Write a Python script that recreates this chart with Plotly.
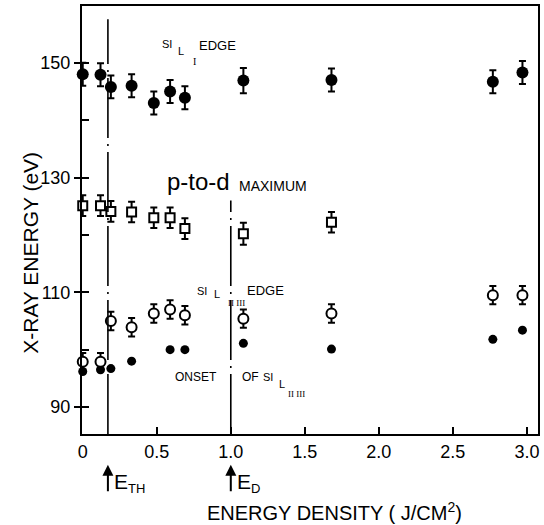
import plotly.graph_objects as go

# ---------------- data ----------------
energy_density = [0, 0.12, 0.19, 0.33, 0.48, 0.59, 0.69, 1.085, 1.68, 2.77, 2.97]
si_l1_edge = [148.0, 147.9, 145.8, 146.0, 143.0, 145.0, 143.9, 146.9, 147.0, 146.7, 148.3]
si_l1_err = [2.0, 2.0, 2.0, 2.0, 2.0, 2.0, 2.0, 2.2, 2.0, 2.0, 2.0]

ptod_density = [0, 0.12, 0.19, 0.33, 0.48, 0.59, 0.69, 1.085, 1.68]
ptod_maximum = [125.1, 125.1, 124.1, 124.0, 123.0, 123.0, 121.1, 120.2, 122.2]
ptod_err = [1.8, 1.8, 1.8, 1.8, 1.8, 1.8, 1.8, 1.9, 1.8]

si_l23_edge = [97.9, 97.9, 105.0, 103.9, 106.3, 107.0, 106.0, 105.4, 106.3, 109.5, 109.5]
si_l23_err = [1.5, 1.5, 1.6, 1.6, 1.6, 1.6, 1.6, 1.6, 1.6, 1.6, 1.6]

onset_density = [0, 0.12, 0.19, 0.33, 0.59, 0.69, 1.085, 1.68, 2.77, 2.97]
onset_l23 = [96.2, 96.5, 96.7, 98.0, 100.0, 100.0, 101.1, 100.1, 101.8, 103.4]

E_TH = 0.17
E_D = 1.0

x_tickvals = [0, 0.5, 1.0, 1.5, 2.0, 2.5, 3.0]
x_ticktext = ["0", "0.5", "1.0", "1.5", "2.0", "2.5", "3.0"]
y_tickvals = [90, 110, 130, 150]

FONT = "Liberation Sans"
BLACK = "black"

fig = go.Figure()

# onset of Si L_II,III (small filled dots, no error bars)
fig.add_trace(go.Scatter(
    x=onset_density, y=onset_l23, mode="markers", cliponaxis=False,
    marker=dict(symbol="circle", size=9, color=BLACK),
    showlegend=False, hoverinfo="skip"))

# Si L_II,III edge (open circles)
fig.add_trace(go.Scatter(
    x=energy_density, y=si_l23_edge, mode="markers", cliponaxis=False,
    marker=dict(symbol="circle", size=10, color="white", line=dict(color=BLACK, width=2)),
    error_y=dict(type="data", array=si_l23_err, visible=True, color=BLACK, thickness=2, width=3.5),
    showlegend=False, hoverinfo="skip"))

# p-to-d maximum (open squares)
fig.add_trace(go.Scatter(
    x=ptod_density, y=ptod_maximum, mode="markers", cliponaxis=False,
    marker=dict(symbol="square", size=9, color="white", line=dict(color=BLACK, width=2)),
    error_y=dict(type="data", array=ptod_err, visible=True, color=BLACK, thickness=2, width=3.5),
    showlegend=False, hoverinfo="skip"))

# Si L_I edge (large filled circles)
fig.add_trace(go.Scatter(
    x=energy_density, y=si_l1_edge, mode="markers", cliponaxis=False,
    marker=dict(symbol="circle", size=12, color=BLACK),
    error_y=dict(type="data", array=si_l1_err, visible=True, color=BLACK, thickness=2, width=3.5),
    showlegend=False, hoverinfo="skip"))

# invisible trace so the overlay axis (inside ticks) is drawn
fig.add_trace(go.Scatter(x=[], y=[], yaxis="y2", showlegend=False, hoverinfo="skip"))

# vertical dash-dot reference lines
fig.add_shape(type="line", xref="x", yref="y", x0=E_TH, x1=E_TH, y0=85.3, y1=157.6,
              line=dict(color=BLACK, width=1.6, dash="60px,6px,2px,6px"))
fig.add_shape(type="line", xref="x", yref="y", x0=E_D, x1=E_D, y0=85.3, y1=126.0,
              line=dict(color=BLACK, width=1.6, dash="60px,6px,2px,6px"))

ann = []
def txt(x, y, s, size, family=FONT, xanchor="left", **kw):
    ann.append(dict(x=x, y=y, xref="x", yref="y", text=s, showarrow=False,
                    xanchor=xanchor, yanchor="middle",
                    font=dict(family=family, size=size, color=BLACK), **kw))

# Si L_I EDGE
txt(0.525, 153.3, "SI", 11)
txt(0.632, 152.1, "L", 11)
txt(0.728, 150.2, "I", 10, family="Liberation Serif")
txt(0.773, 153.0, "EDGE", 13)
# p-to-d MAXIMUM
txt(0.558, 129.3, "p-to-d", 24)
txt(1.042, 128.6, "MAXIMUM", 14)
# Si L_II III EDGE
txt(0.76, 110.3, "SI", 11)
txt(0.874, 109.7, "L", 11)
txt(0.968, 108.1, "II III", 9, family="Liberation Serif")
txt(1.096, 110.3, "EDGE", 13)
# ONSET OF Si L_II III
txt(0.612, 95.2, "ONSET", 12)
txt(1.062, 95.2, "OF", 12)
txt(1.205, 95.2, "SI", 11)
txt(1.315, 94.0, "L", 11)
txt(1.37, 92.3, "II III", 9, family="Liberation Serif")

# arrows for E_TH and E_D below the axis
for xv, lab in [(E_TH, "TH"), (E_D, "D")]:
    ann.append(dict(x=xv, y=-0.072, xref="x", yref="paper", text="", showarrow=True,
                    ax=0, ay=28, arrowhead=2, arrowsize=1.1, arrowwidth=2, arrowcolor=BLACK))
    ann.append(dict(x=xv, y=-0.114, xref="x", yref="paper",
                    text="E<sub><span style='font-size:13px'>%s</span></sub>" % lab,
                    showarrow=False, xanchor="left", yanchor="middle", xshift=4,
                    font=dict(family=FONT, size=21, color=BLACK)))

# axis titles
ann.append(dict(x=-0.1135, y=0.424, xref="paper", yref="paper", text="X-RAY ENERGY (eV)",
                textangle=-90, showarrow=False, xanchor="center", yanchor="middle",
                font=dict(family=FONT, size=21, color=BLACK)))
ann.append(dict(x=0.5546, y=-0.182, xref="paper", yref="paper",
                text="ENERGY DENSITY ( J/CM<sup>2</sup>)",
                showarrow=False, xanchor="center", yanchor="middle",
                font=dict(family=FONT, size=20, color=BLACK)))

fig.update_layout(
    width=544, height=525,
    margin=dict(l=82, r=4, t=5, b=91),
    paper_bgcolor="white", plot_bgcolor="white",
    font=dict(family=FONT, size=18, color=BLACK),
    showlegend=False,
    annotations=ann,
    xaxis=dict(range=[-0.005, 3.075], tickvals=x_tickvals, ticktext=x_ticktext,
               ticks="inside", ticklen=7, tickwidth=2, tickcolor=BLACK,
               showline=True, linecolor=BLACK, linewidth=2, mirror=True,
               showgrid=False, zeroline=False, tickfont=dict(size=18, family=FONT)),
    yaxis=dict(range=[85.3, 159.9], tickvals=y_tickvals,
               ticks="outside", ticklen=6, tickwidth=2, tickcolor=BLACK,
               showline=True, linecolor=BLACK, linewidth=2, mirror=True,
               showgrid=False, zeroline=False, tickfont=dict(size=18, family=FONT)),
    yaxis2=dict(range=[85.3, 159.9], overlaying="y", side="left", anchor="x",
                tickvals=[90, 100, 110, 120, 130, 140, 150], showticklabels=False,
                ticks="inside", ticklen=7, tickwidth=2, tickcolor=BLACK,
                showline=False, showgrid=False, zeroline=False),
)

fig.write_html(
    "out.html",
    config={"displayModeBar": False},
    post_script=("document.documentElement.style.margin='0';"
                 "document.body.style.margin='0';"
                 "document.body.style.padding='0';"
                 "document.documentElement.style.overflow='hidden';"
                 "document.body.style.overflow='hidden';"),
)
